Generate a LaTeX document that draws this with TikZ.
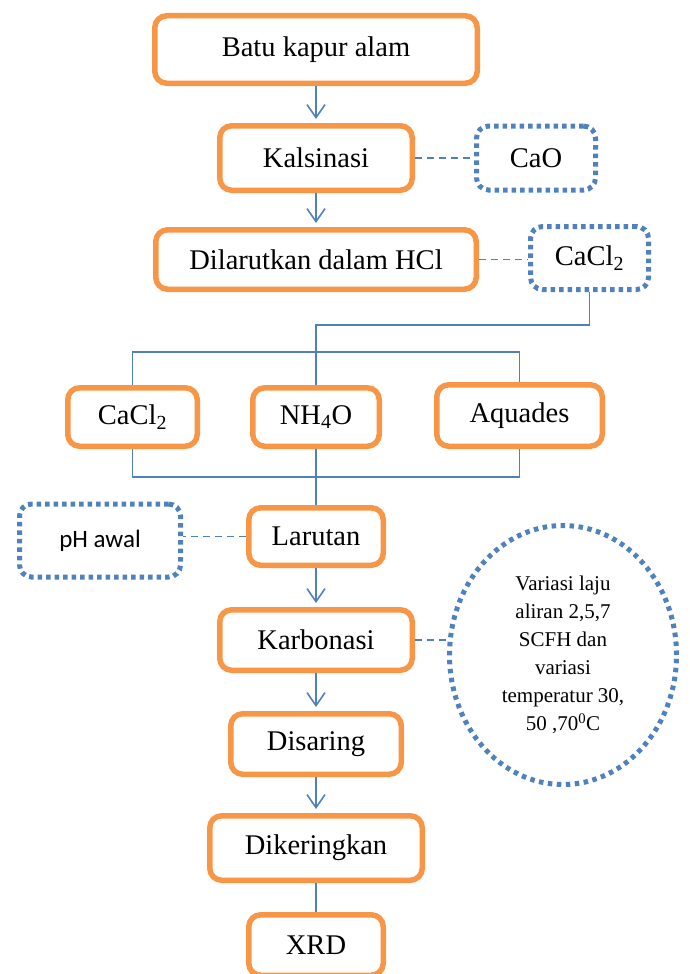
\documentclass[tikz,border=0pt]{standalone}
\usepackage{fontspec}
\setmainfont{Liberation Serif}
\newfontfamily\calibri{Carlito}
\usetikzlibrary{arrows.meta,positioning,shapes.geometric}
\definecolor{boxorange}{HTML}{F79646}
\definecolor{lineblue}{HTML}{4F81BD}

\begin{document}
\begin{tikzpicture}[x=1pt,y=-1pt,font=\fontsize{28.5}{32}\selectfont,
 proc/.style={draw=boxorange,line width=5.5pt,rounded corners=12pt,minimum height=61.5pt,inner sep=0pt,align=center},
 note/.style={draw=lineblue,line width=5pt,dash pattern=on 4.5pt off 4pt,rounded corners=12pt,inner sep=0pt,align=center},
 flow/.style={draw=lineblue,line width=1.6pt,shorten >=4pt,-{Straight Barb[length=13pt,width=18pt]}},
 wire/.style={draw=lineblue,line width=1.6pt},
 link/.style={draw=lineblue,line width=1.8pt,dash pattern=on 7pt off 5pt}]
\useasboundingbox (0,0) rectangle (690,974);
\clip (0,0) rectangle (690,974);
\node[proc,minimum width=322.5pt,minimum height=67.5pt] (batu) at (316,49.5) {Batu kapur alam};
\node[proc,minimum width=192.5pt,minimum height=64.5pt,below=37pt of batu] (kalsinasi) {Kalsinasi};
\node[note,minimum width=119pt,minimum height=64pt,right=59pt of kalsinasi] (cao) {CaO};
\node[proc,minimum width=320.5pt,minimum height=59.5pt,below=34pt of kalsinasi] (dilarut) {Dilarutkan dalam HCl};
\node[note,minimum width=118pt,minimum height=63pt,right=49pt of dilarut,yshift=1.5pt] (salt) {CaCl\textsubscript{2}};
\node[proc,minimum width=126.5pt,minimum height=58.5pt,below=93pt of dilarut] (nh4o) {NH\textsubscript{4}O};
\node[proc,minimum width=129.5pt,minimum height=58.5pt,left=50pt of nh4o] (cacl) {CaCl\textsubscript{2}};
\node[proc,minimum width=165.5pt,minimum height=61.5pt,right=52pt of nh4o,yshift=1.5pt] (aquades) {Aquades};
\node[proc,minimum width=134.5pt,minimum height=57.5pt,below=56pt of nh4o] (larutan) {Larutan};
\node[note,font=\calibri\fontsize{25}{30}\selectfont,minimum width=161pt,minimum height=73pt,left=63pt of larutan,yshift=-4pt] (ph) {pH awal};
\node[proc,minimum width=192.5pt,minimum height=60.5pt,below=39pt of larutan] (karbonasi) {Karbonasi};
\node[ellipse,draw=lineblue,line width=5pt,dash pattern=on 4.5pt off 4.5pt,minimum width=227pt,minimum height=259pt,inner sep=0pt,align=center,font=\fontsize{21}{28}\selectfont,right=32pt of karbonasi,yshift=-15pt] (ell) {Variasi laju\\aliran 2,5,7\\SCFH dan\\variasi\\temperatur 30,\\50 ,70\textsuperscript{0}C};
\node[proc,minimum width=170.5pt,minimum height=60.5pt,below=38pt of karbonasi] (disaring) {Disaring};
\node[proc,minimum width=212.5pt,minimum height=64.5pt,below=36pt of disaring] (dikering) {Dikeringkan};
\node[proc,minimum width=134.5pt,minimum height=60.5pt,below=29pt of dikering] (xrd) {XRD};
\coordinate (drop) at (316,325);
\coordinate (bartop) at (316,352);
\coordinate (barbot) at (316,477);
\draw[flow] (batu) -- (kalsinasi);
\draw[flow] (kalsinasi) -- (dilarut);
\draw[link] (kalsinasi) -- (cao);
\draw[link] (dilarut.east) -- (dilarut.east -| salt.west);
\draw[wire] (salt.south) |- (drop) -- (nh4o.north);
\draw[wire] (cacl.north) -- (cacl.north |- bartop) -- (aquades.north |- bartop) -- (aquades.north);
\draw[wire] (cacl.south) -- (cacl.south |- barbot) -- (aquades.south |- barbot) -- (aquades.south);
\draw[wire] (nh4o.south) -- (larutan.north);
\draw[link] (larutan.west) -- (larutan.west -| ph.east);
\draw[flow] (larutan) -- (karbonasi);
\draw[link] (karbonasi.east) -- (karbonasi.east -| ell.west);
\draw[flow] (karbonasi) -- (disaring);
\draw[flow] (disaring) -- (dikering);
\draw[wire] (dikering) -- (xrd);
\end{tikzpicture}
\end{document}
